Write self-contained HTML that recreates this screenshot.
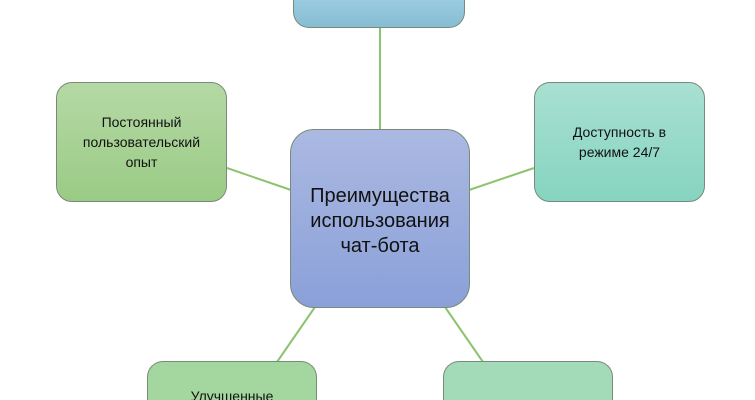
<!DOCTYPE html>
<html><head><meta charset="utf-8"><style>
html,body{margin:0;padding:0;background:#fff;width:755px;height:400px;overflow:hidden;position:relative}
.b{position:absolute;box-sizing:border-box;border:1px solid #7a8a7a;border-radius:16px;display:flex;align-items:center;justify-content:center;text-align:center;font-family:"Liberation Sans Narrow","Liberation Sans",sans-serif;color:#111;font-size:14px;line-height:20px;overflow:hidden}
svg{position:absolute;left:0;top:0}
</style></head><body>
<svg width="755" height="400"><g stroke="#8cc46e" stroke-width="2" fill="none">
<line x1="380" y1="28" x2="380" y2="130"/>
<line x1="227" y1="168" x2="291" y2="190"/>
<line x1="469" y1="190" x2="534" y2="168"/>
<line x1="315" y1="307" x2="277" y2="362"/>
<line x1="445" y1="307" x2="483" y2="362"/>
</g></svg>
<div class="b" style="left:293px;top:0;width:172px;height:28px;border-top:none;border-radius:0 0 16px 16px;background:linear-gradient(#9acbe0,#86bdd4)"></div>
<div class="b" style="left:56px;top:82px;width:171px;height:120px;background:linear-gradient(#b5d9a5,#9acb85)">Постоянный<br>пользовательский<br>опыт</div>
<div class="b" style="left:534px;top:82px;width:171px;height:120px;background:linear-gradient(#a9e0d2,#86d4c0)">Доступность в<br>режиме 24/7</div>
<div class="b" style="left:290px;top:129px;width:180px;height:179px;border-radius:24px;background:linear-gradient(#abb9e2,#8aa0d8);font-size:20px;line-height:25px;padding-top:6px">Преимущества<br>использования<br>чат-бота</div>
<div class="b" style="left:147px;top:361px;width:170px;height:39px;border-bottom:none;border-radius:16px 16px 0 0;background:#a3d79f;align-items:flex-start;padding-top:24px">Улучшенные</div>
<div class="b" style="left:443px;top:361px;width:170px;height:39px;border-bottom:none;border-radius:16px 16px 0 0;background:#a3dab8"></div>
</body></html>
